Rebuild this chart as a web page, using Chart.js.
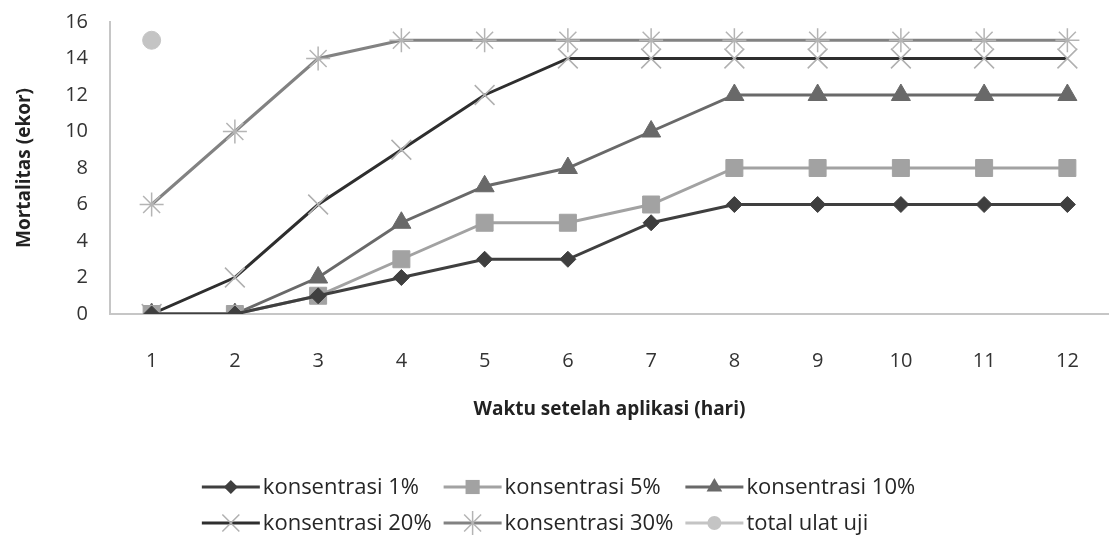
<!DOCTYPE html>
<html lang="id">
<head>
<meta charset="UTF-8">
<title>Mortalitas ulat</title>
<script src="https://cdn.jsdelivr.net/npm/chart.js"></script>
<style>
    html, body { margin: 0; padding: 0; background: #ffffff; }
    .chartBox { width: 1109px; height: 542px; }
</style>
</head>
<body>
<div class="chartBox">
    <canvas id="mortalitas"></canvas>
</div>
<script>
// data
const hari = ['1', '2', '3', '4', '5', '6', '7', '8', '9', '10', '11', '12'];
const k1 = [0, 0, 1, 2, 3, 3, 5, 6, 6, 6, 6, 6];
const k5 = [0, 0, 1, 3, 5, 5, 6, 8, 8, 8, 8, 8];
const k10 = [0, 0, 2, 5, 7, 8, 10, 12, 12, 12, 12, 12];
const k20 = [0, 2, 6, 9, 12, 14, 14, 14, 14, 14, 14, 14];
const k30 = [6, 10, 14, 15, 15, 15, 15, 15, 15, 15, 15, 15];
const totalUlat = [15, null, null, null, null, null, null, null, null, null, null, null];
const yTicks = [0, 2, 4, 6, 8, 10, 12, 14, 16];

const FONT = "'Open Sans', sans-serif";

// legenda dengan garis + marker seperti excel
function drawMarker(ctx, style, x, y, r, fill, stroke) {
    ctx.save();
    ctx.fillStyle = fill;
    ctx.strokeStyle = stroke;
    ctx.lineWidth = 1.5;
    ctx.beginPath();
    if (style == 'rectRot') {
        ctx.moveTo(x, y - r); ctx.lineTo(x + r, y); ctx.lineTo(x, y + r); ctx.lineTo(x - r, y);
        ctx.closePath(); ctx.fill();
    } else if (style == 'rect') {
        let s = r * Math.SQRT1_2;
        ctx.rect(x - s, y - s, 2 * s, 2 * s); ctx.fill();
    } else if (style == 'triangle') {
        ctx.moveTo(x, y - r); ctx.lineTo(x + r * 0.87, y + r * 0.5); ctx.lineTo(x - r * 0.87, y + r * 0.5);
        ctx.closePath(); ctx.fill();
    } else if (style == 'circle') {
        ctx.arc(x, y, r, 0, Math.PI * 2); ctx.fill();
    } else {
        let d = r * Math.SQRT1_2;
        ctx.moveTo(x - d, y - d); ctx.lineTo(x + d, y + d);
        ctx.moveTo(x - d, y + d); ctx.lineTo(x + d, y - d);
        if (style == 'star') { ctx.moveTo(x, y - r); ctx.lineTo(x, y + r); }
        ctx.stroke();
    }
    ctx.restore();
}

const excelLegend = {
    id: 'excelLegend',
    afterDraw(chart) {
        const ctx = chart.ctx;
        const sets = chart.data.datasets;
        const lineW = 58, gap = 12, cols = 3;
        const rowsY = [487, 523];
        ctx.save();
        ctx.font = '22px ' + FONT;
        let colW = [0, 0, 0];
        sets.forEach((ds, i) => {
            let w = lineW + 3 + ctx.measureText(ds.label).width;
            colW[i % cols] = Math.max(colW[i % cols], w);
        });
        let total = colW[0] + colW[1] + colW[2] + gap * 2;
        let startX = (chart.width - total) / 2 + 4;
        sets.forEach((ds, i) => {
            let c = i % cols;
            let x = startX;
            for (let j = 0; j < c; j++) x += colW[j] + gap;
            let y = rowsY[Math.floor(i / cols)];
            ctx.strokeStyle = ds.legendLine;
            ctx.lineWidth = 3;
            ctx.beginPath();
            ctx.moveTo(x, y); ctx.lineTo(x + lineW, y);
            ctx.stroke();
            drawMarker(ctx, ds.pointStyle, x + lineW / 2, y, ds.legendR, ds.pointBackgroundColor, ds.pointBorderColor);
            ctx.fillStyle = '#262626';
            ctx.textBaseline = 'middle';
            ctx.textAlign = 'left';
            ctx.fillText(ds.label, x + lineW + 3, y + 1);
        });
        ctx.restore();
    }
};

const ctx = document.getElementById('mortalitas');

new Chart(ctx, {
    type: 'line',
    data: {
        labels: hari,
        datasets: [
            {
                label: 'konsentrasi 1%', data: k1,
                borderColor: '#3f3f3f', legendLine: '#3f3f3f', borderWidth: 3,
                pointStyle: 'rectRot', pointRadius: 8, legendR: 7,
                pointBackgroundColor: '#3f3f3f', pointBorderColor: '#3f3f3f', pointBorderWidth: 1
            },
            {
                label: 'konsentrasi 5%', data: k5,
                borderColor: '#a2a2a2', legendLine: '#a2a2a2', borderWidth: 3,
                pointStyle: 'rect', pointRadius: 12, legendR: 10,
                pointBackgroundColor: '#a2a2a2', pointBorderColor: '#a2a2a2', pointBorderWidth: 1
            },
            {
                label: 'konsentrasi 10%', data: k10,
                borderColor: '#696969', legendLine: '#696969', borderWidth: 3,
                pointStyle: 'triangle', pointRadius: 11, legendR: 9,
                pointBackgroundColor: '#696969', pointBorderColor: '#696969', pointBorderWidth: 1
            },
            {
                label: 'konsentrasi 20%', data: k20,
                borderColor: '#2e2e2e', legendLine: '#2e2e2e', borderWidth: 3,
                pointStyle: 'crossRot', pointRadius: 14, legendR: 12,
                pointBackgroundColor: '#b0b0b0', pointBorderColor: '#b0b0b0', pointBorderWidth: 1.5
            },
            {
                label: 'konsentrasi 30%', data: k30,
                borderColor: '#828282', legendLine: '#828282', borderWidth: 3,
                pointStyle: 'star', pointRadius: 12, legendR: 12,
                pointBackgroundColor: '#b4b4b4', pointBorderColor: '#b4b4b4', pointBorderWidth: 1.5
            },
            {
                label: 'total ulat uji', data: totalUlat,
                borderColor: '#c4c4c4', legendLine: '#c4c4c4', borderWidth: 3, showLine: false,
                pointStyle: 'circle', pointRadius: 9, legendR: 7,
                pointBackgroundColor: '#c4c4c4', pointBorderColor: '#c4c4c4', pointBorderWidth: 1
            }
        ]
    },
    options: {
        responsive: true,
        maintainAspectRatio: false,
        animation: false,
        layout: { autoPadding: false, padding: { top: 22, bottom: 118, left: 0, right: -4 } },
        plugins: {
            legend: { display: false },
            tooltip: { enabled: false }
        },
        scales: {
            x: {
                offset: true,
                grid: { display: true, drawOnChartArea: false, drawTicks: true, tickLength: 31, tickColor: 'rgba(0,0,0,0)' },
                border: { display: true, color: '#c6c6c6', width: 2 },
                ticks: { padding: 4, color: '#333', font: { family: FONT, size: 20 } },
                title: {
                    display: true, text: 'Waktu setelah aplikasi (hari)', color: '#222',
                    font: { family: FONT, size: 19, weight: 'bold' }, padding: { top: 0, bottom: 3 }
                },
                afterFit(scale) {
                    scale.height = 110;
                    scale.paddingLeft = 0;
                    scale.paddingRight = -4;
                }
            },
            y: {
                min: 0, max: 16,
                grid: { display: true, drawOnChartArea: false, drawTicks: true, tickLength: 18, tickColor: 'rgba(0,0,0,0)' },
                border: { display: true, color: '#c6c6c6', width: 2 },
                afterBuildTicks(scale) { scale.ticks = yTicks.map(v => ({ value: v })); },
                ticks: { padding: 4, color: '#333', font: { family: FONT, size: 20 } },
                title: {
                    display: true, text: 'Mortalitas (ekor)', color: '#222',
                    font: { family: FONT, size: 19, weight: 'bold' }, padding: { top: 13, bottom: 0 }
                },
                afterFit(scale) { scale.width = 110; }
            }
        }
    },
    plugins: [excelLegend]
});
</script>
</body>
</html>
